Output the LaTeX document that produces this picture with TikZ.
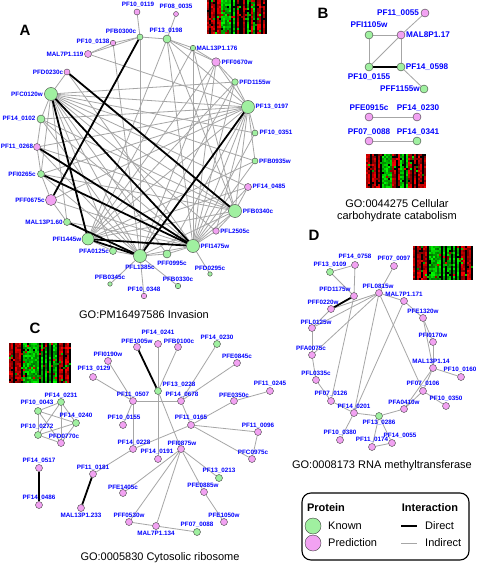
\documentclass[tikz,border=0pt]{standalone}
\usepackage{fontspec}
\setmainfont{Liberation Sans}
\definecolor{kgreen}{HTML}{A0F0A0}
\definecolor{ppink}{HTML}{F2A2F2}
\definecolor{lblue}{HTML}{0000FF}
\pgfdeclarelayer{bglayer}
\pgfdeclarelayer{edgelayer}
\pgfsetlayers{bglayer,edgelayer,main}
\tikzset{
  kn/.style={circle,draw=black!75,line width=0.4pt,fill=kgreen,inner sep=0pt,minimum size=#1},
  pr/.style={circle,draw=black!75,line width=0.4pt,fill=ppink,inner sep=0pt,minimum size=#1},
  lbl/.style={text=lblue,font=\bfseries\fontsize{6.3}{7}\selectfont,inner sep=0pt},
  lblB/.style={text=lblue,font=\bfseries\fontsize{8.2}{9}\selectfont,inner sep=0pt},
  ttl/.style={font=\fontsize{11}{12}\selectfont,inner sep=0pt,align=center},
  letter/.style={font=\bfseries\fontsize{15}{16}\selectfont,inner sep=0pt},
  legh/.style={font=\bfseries\fontsize{11}{12}\selectfont,inner sep=0pt},
  legt/.style={font=\fontsize{11}{12}\selectfont,inner sep=0pt},
  ind/.style={draw=black!35,line width=0.8pt},
  dir/.style={draw=black,line width=1.8pt},
}
\newcommand\pn[5]{\node[#1] (#2) at (#3) {}; \node[lbl] (#2-l) at (#4) {#5};}
\newcommand\pnB[5]{\node[#1] (#2) at (#3) {}; \node[lblB] (#2-l) at (#4) {#5};}
\newcommand\hmap[4]{% x0, y0, rows, column codes
  \foreach \hmc [count=\hmi from 0] in {#4} {
    \foreach \hmj in {1,...,#3} {
      \pgfmathtruncatemacro\hmcode{rnd<0.15 ? int(2.99*rnd) : \hmc}
      \pgfmathtruncatemacro\hmint{45+55*rnd}
      \ifcase\hmcode \def\hmcol{black}\or \edef\hmcol{red!\hmint!black}\or \edef\hmcol{green!\hmint!black}\fi
      \fill[\hmcol] ({#1+2*\hmi},{#2+2*(\hmj-1)}) rectangle ++(2.1,2.1);
    }
  }
}
\begin{document}
\begin{tikzpicture}[x=1pt,y=-1pt]
\begin{pgfonlayer}{bglayer}
\fill[white] (0,0) rectangle (478,569);
\end{pgfonlayer}
\useasboundingbox (0,0) rectangle (478,569);
\pgfmathsetseed{7}
% heatmaps
\hmap{207}{0}{17}{1,0,1,1,0,1,1,2,2,2,2,2,0,2,0,1,0,0,1,0,2,0,1,2,0,1,1,0,1,0}
\hmap{366}{154}{17}{1,1,0,1,1,0,1,0,2,2,2,2,2,1,1,0,1,2,2,0,2,1,1,0,1,0,1,1,0,1}
\hmap{9}{343}{20}{1,1,0,1,1,1,0,2,2,2,2,2,2,2,2,0,2,0,2,0,2,0,2,2,0,1,1,0,1,1,0}
\hmap{413}{246}{17}{1,0,1,1,0,1,1,0,2,2,2,2,2,2,0,2,0,2,2,0,2,0,2,0,1,1,0,1,1,0}
% letters and titles
\node[letter] (LA) at (25,30) {A};
\node[letter] (LB) at (323,13) {B};
\node[letter] (LC) at (35,328) {C};
\node[letter] (LD) at (314,235) {D};
\node[ttl] (tA) at (144,315) {GO:PM16497586 Invasion};
\node[ttl] (tB) at (397,211) {GO:0044275 Cellular\\carbohydrate catabolism};
\node[ttl] (tC) at (160,558) {GO:0005830 Cytosolic ribosome};
\node[ttl] (tD) at (382,466) {GO:0008173 RNA methyltransferase};
% ---------- Panel A ----------
\pn{pr=6}{a119}{137,12}{138,5}{PF10\_0119}
\pn{pr=5}{a35}{176,14}{176,7}{PF08\_0035}
\pn{kn=6}{b300}{140,37}{121,31}{PFB0300c}
\pn{kn=8}{a198}{167,39}{166,31}{PF13\_0198}
\pn{kn=5.5}{m176}{193,48}{217,48}{MAL13P1.176}
\pn{pr=8.5}{f670}{216,62}{237,62}{PFF0670w}
\pn{kn=6.5}{d1155}{235,82}{255,82}{PFD1155w}
\pn{kn=13}{p197}{248,107}{272,107}{PF13\_0197}
\pn{kn=6}{p351}{255,133}{276,133}{PF10\_0351}
\pn{kn=6}{b935}{255,161}{275,161}{PFB0935w}
\pn{pr=7}{p485}{248,187}{269,187}{PF14\_0485}
\pn{kn=13}{b340}{235,211}{258,211}{PFB0340c}
\pn{pr=6.5}{l2505}{216,231}{235,231}{PFL2505c}
\pn{kn=13}{i1475}{193,246}{215,246}{PFI1475w}
\pn{kn=8}{f995}{167,254}{172,263}{PFF0995c}
\pn{kn=13}{l1385}{140,256}{140,267}{PFL1385c}
\pn{kn=7}{a125}{113,251}{94,251}{PFA0125c}
\pn{kn=12}{i1445}{88,239}{67,239}{PFI1445w}
\pn{kn=7}{m60}{67,222}{44,222}{MAL13P1.60}
\pn{pr=11}{f675}{51,200}{30,200}{PFF0675c}
\pn{kn=7}{i265}{41,174}{22,174}{PFI0265c}
\pn{pr=7}{p268}{37,147}{17,147}{PF11\_0268}
\pn{kn=8}{p102}{41,119}{19,119}{PF14\_0102}
\pn{kn=13}{c120}{51,94}{27,94}{PFC0120w}
\pn{pr=6}{d230}{67,72}{48,72}{PFD0230c}
\pn{pr=7}{m119}{88,54}{65,54}{MAL7P1.119}
\pn{pr=5.5}{p138}{113,43}{93,42}{PF10\_0138}
\pn{kn=4.5}{b345}{110,284}{110,277}{PFB0345c}
\pn{pr=5.5}{p348}{144,296}{144,290}{PF10\_0348}
\pn{kn=5.5}{b330}{178,286}{178,279}{PFB0330c}
\pn{kn=4.5}{d295}{210,274}{210,268}{PFD0295c}
% ---------- Panel B ----------
\pnB{kn=8}{bI105}{369,35}{369,25}{PFI1105w}
\pnB{pr=8}{bM17}{401,35}{428,35}{MAL8P1.17}
\pnB{pr=8}{bP55}{425,13}{398,13}{PF11\_0055}
\pnB{kn=8}{bP155}{369,67}{369,77}{PF10\_0155}
\pnB{kn=8}{bP598}{401,67}{427,67}{PF14\_0598}
\pnB{kn=8}{bF1155}{424,89}{400,89}{PFF1155w}
\pnB{pr=8}{bE915}{369,117}{369,108}{PFE0915c}
\pnB{pr=8}{bP230}{417,117}{418,108}{PF14\_0230}
\pnB{pr=8}{bP088}{369,141}{369,132}{PF07\_0088}
\pnB{kn=8}{bP341}{417,141}{418,132}{PF14\_0341}
% ---------- Panel D ----------
\pn{pr=7}{dP758}{355,265}{355,257}{PF14\_0758}
\pn{kn=7}{dP109}{330,272}{330,265}{PF13\_0109}
\pn{pr=7}{dP097}{394,266}{394,259}{PF07\_0097}
\pn{pr=7}{dD1175}{354,296}{335,289}{PFD1175w}
\pn{pr=7}{dL815}{379,293}{378,286}{PFL0815w}
\pn{pr=7}{dM171}{404,301}{404,294}{MAL7P1.171}
\pn{pr=7}{dF220}{331,309}{323,302}{PFF0220w}
\pn{pr=7}{dE1320}{423,318}{423,311}{PFE1320w}
\pn{pr=7}{dL125}{312,328}{316,322}{PFL0125w}
\pn{pr=7}{dI170}{433,342}{433,335}{PFI0170w}
\pn{pr=7}{dA075}{312,355}{311,348}{PFA0075c}
\pn{pr=7}{dM14}{433,368}{431,361}{MAL13P1.14}
\pn{pr=7}{dP160}{461,377}{460,370}{PF10\_0160}
\pn{pr=7}{dL335}{316,380}{316,373}{PFL0335c}
\pn{pr=7}{dP126}{331,401}{331,394}{PF07\_0126}
\pn{pr=7}{dP106}{423,391}{423,384}{PF07\_0106}
\pn{pr=7}{dP350}{446,406}{446,399}{PF10\_0350}
\pn{pr=7}{dA410}{404,409}{404,402}{PFA0410w}
\pn{pr=7}{dP201}{354,413}{354,407}{PF14\_0201}
\pn{kn=7}{dP286}{379,416}{379,423}{PF13\_0286}
\pn{pr=7}{dP380}{340,440}{340,433}{PF10\_0380}
\pn{pr=7}{dP174}{372,447}{372,440}{PF11\_0174}
\pn{pr=7}{dP055}{392,443}{400,436}{PF14\_0055}
% ---------- Panel C ----------
\pn{kn=7}{cP231}{61,402}{61,396}{PF14\_0231}
\pn{kn=7}{cP043}{38,411}{37,403}{PF10\_0043}
\pn{kn=7}{cP240}{76,423}{76,416}{PF14\_0240}
\pn{kn=7}{cP272}{38,435}{37,427}{PF10\_0272}
\pn{pr=7}{cD770}{61,443}{64,436}{PFD0770c}
\pn{pr=7}{cE1005}{137,347}{137,341}{PFE1005w}
\pn{pr=7}{cP241}{158,344}{158,333}{PF14\_0241}
\pn{pr=7}{cB100}{178,347}{179,341}{PFB0100c}
\pn{kn=7}{cP230}{217,344}{217,338}{PF14\_0230}
\pn{pr=7}{cE845}{237,363}{237,356}{PFE0845c}
\pn{pr=7}{cI190}{108,361}{108,354}{PFI0190w}
\pn{pr=7}{cP129}{93,377}{94,369}{PF13\_0129}
\pn{kn=7}{cP228}{158,391}{179,385}{PF13\_0228}
\pn{pr=7}{cP507}{133,401}{133,395}{PF11\_0507}
\pn{pr=7}{cP678}{181,401}{182,395}{PF14\_0678}
\pn{pr=7}{cP245}{270,391}{270,384}{PF11\_0245}
\pn{pr=7}{cE350}{234,401}{234,395}{PFE0350c}
\pn{pr=7}{cP155}{123,425}{124,418}{PF10\_0155}
\pn{pr=7}{cP165}{191,425}{191,418}{PF11\_0165}
\pn{pr=7}{cP096}{258,432}{258,426}{PF11\_0096}
\pn{pr=7}{cP2228}{133,449}{134,443}{PF14\_0228}
\pn{pr=7}{cI875}{181,449}{182,443}{PFI0875w}
\pn{pr=7}{cP191}{158,459}{157,452}{PF14\_0191}
\pn{pr=7}{cC975}{252,459}{253,452}{PFC0975c}
\pn{pr=7}{cP181}{93,474}{93,468}{PF11\_0181}
\pn{kn=7}{cP213}{219,478}{219,471}{PF13\_0213}
\pn{pr=7}{cE885}{204,492}{203,485}{PFE0885w}
\pn{pr=7}{cE1405}{123,493}{123,487}{PFE1405c}
\pn{pr=7}{cP517}{39,468}{39,461}{PF14\_0517}
\pn{pr=7}{cP486}{39,505}{39,498}{PF14\_0486}
\pn{pr=7}{cM233}{81,508}{81,515}{MAL13P1.233}
\pn{pr=7}{cE1050}{224,522}{224,515}{PFE1050w}
\pn{pr=7}{cF530}{129,522}{129,515}{PFF0530w}
\pn{pr=7}{cM134}{156,526}{156,533}{MAL7P1.134}
\pn{kn=7}{cP088}{197,532}{197,525}{PF07\_0088}
% ---------- edges ----------
\begin{pgfonlayer}{edgelayer}
\foreach \u/\v in {a119/b300, a35/a198, b300/p138, b300/m119, p138/m119, b300/a198, a198/m176, m176/f670, a198/f670, f670/d1155,
  b345/l1385, p348/l1385, b330/l1385, d295/i1475, p268/p102, p268/i265, i265/f675, f675/m60, p102/c120, c120/d230,
  l1385/f995, f995/i1475, i1475/l2505, l2505/b340, b340/p485, a125/i1445,
  c120/d1155, c120/p197, c120/p351, c120/b935, c120/p485, c120/b340, c120/l2505, c120/f995, c120/l1385, c120/a125, c120/i265, c120/m60,
  p197/a198, p197/f670, p197/m119, p197/p102, p197/p268, p197/i265, p197/f675, p197/i1445, p197/i1475, p197/b340, p197/l2505, p197/f995, p197/p351, p197/b935, p197/d1155,
  i1475/f670, i1475/d1155, i1475/m176, i1475/a198, i1475/b935, i1475/p485, i1475/b340, i1475/p351, i1475/p102, i1475/d230, i1475/m60, i1475/f675,
  l1385/b300, l1385/p138, l1385/f670, l1385/d1155, l1385/p102, l1385/i265, l1385/p268, l1385/b340, l1385/a125, l1385/i1475,
  b340/a198, b340/m176, b340/p102, b340/p268, b340/i265, b340/i1445,
  i1445/a198, i1445/m176, i1445/f670, i1445/d1155, i1445/p485, i1445/b935,
  bI105/bM17, bI105/bP155, bM17/bP598, bM17/bP55, bM17/bP155, bP598/bF1155, bE915/bP230, bP088/bP341,
  dP109/dP758, dP109/dD1175, dP758/dD1175, dD1175/dP126, dF220/dL125, dL125/dA075, dA075/dL335, dL335/dP126, dP126/dP201,
  dP201/dP380, dP201/dP286, dP286/dP174, dP286/dP055, dP174/dP055, dP286/dA410, dA410/dP106, dA410/dM14, dP106/dM14,
  dP106/dP350, dM14/dP160, dM14/dI170, dI170/dE1320, dE1320/dM14, dM171/dE1320, dL815/dM171, dL815/dP097, dL815/dF220,
  dL815/dL125, dL815/dA075, dL815/dP201, dL815/dP106, dM171/dP201,
  cP231/cP043, cP231/cP240, cP231/cP272, cP231/cD770, cP043/cP240, cP043/cP272, cP043/cD770, cP240/cP272, cP240/cD770, cP272/cD770,
  cP241/cP228, cP228/cP191, cB100/cP228, cP228/cI875, cP230/cP678, cE845/cP678, cI190/cP507, cP129/cP507, cP507/cP678,
  cP507/cP2228, cP155/cP507, cP678/cP165, cP2228/cP165, cP165/cE350, cE350/cP245, cP165/cP096, cP165/cC975, cP096/cC975,
  cI875/cE1405, cI875/cF530, cI875/cM134, cI875/cE885, cI875/cP213, cE885/cE1050, cF530/cM134, cM134/cP088, cP181/cP2228}
  {\draw[ind] (\u) -- (\v);}
\foreach \u/\v in {b300/f675, d230/b340, c120/i1475, c120/i1445, p268/i1475, i265/i1475, i1445/i1475, i1445/l1385, m60/l1385, p197/l1385,
  bP155/bP598, dD1175/dF220, cE1005/cP228, cP181/cM233, cP517/cP486}
  {\draw[dir] (\u) -- (\v);}
\end{pgfonlayer}
% ---------- legend ----------
\node[draw=black,line width=1.1pt,rounded corners=9pt,minimum width=167,minimum height=67,inner sep=0pt] (legbox) at (385.5,526.5) {};
\node[legh] (lgp) at (326,508) {Protein};
\node[legh] (lgi) at (430,508) {Interaction};
\node[kn=16] (lgk) at (313,526) {};
\node[pr=16] (lgpr) at (313,543) {};
\node[legt,anchor=west] (lgkt) at (328,526) {Known};
\node[legt,anchor=west] (lgprt) at (328,543) {Prediction};
\coordinate (ld1) at (401,526); \coordinate (ld2) at (417,526);
\coordinate (li1) at (401,543); \coordinate (li2) at (417,543);
\draw[dir] (ld1) -- (ld2);
\draw[ind,line width=1pt] (li1) -- (li2);
\node[legt,anchor=west] (lgdt) at (425,526) {Direct};
\node[legt,anchor=west] (lgit) at (425,543) {Indirect};
\end{tikzpicture}
\end{document}
